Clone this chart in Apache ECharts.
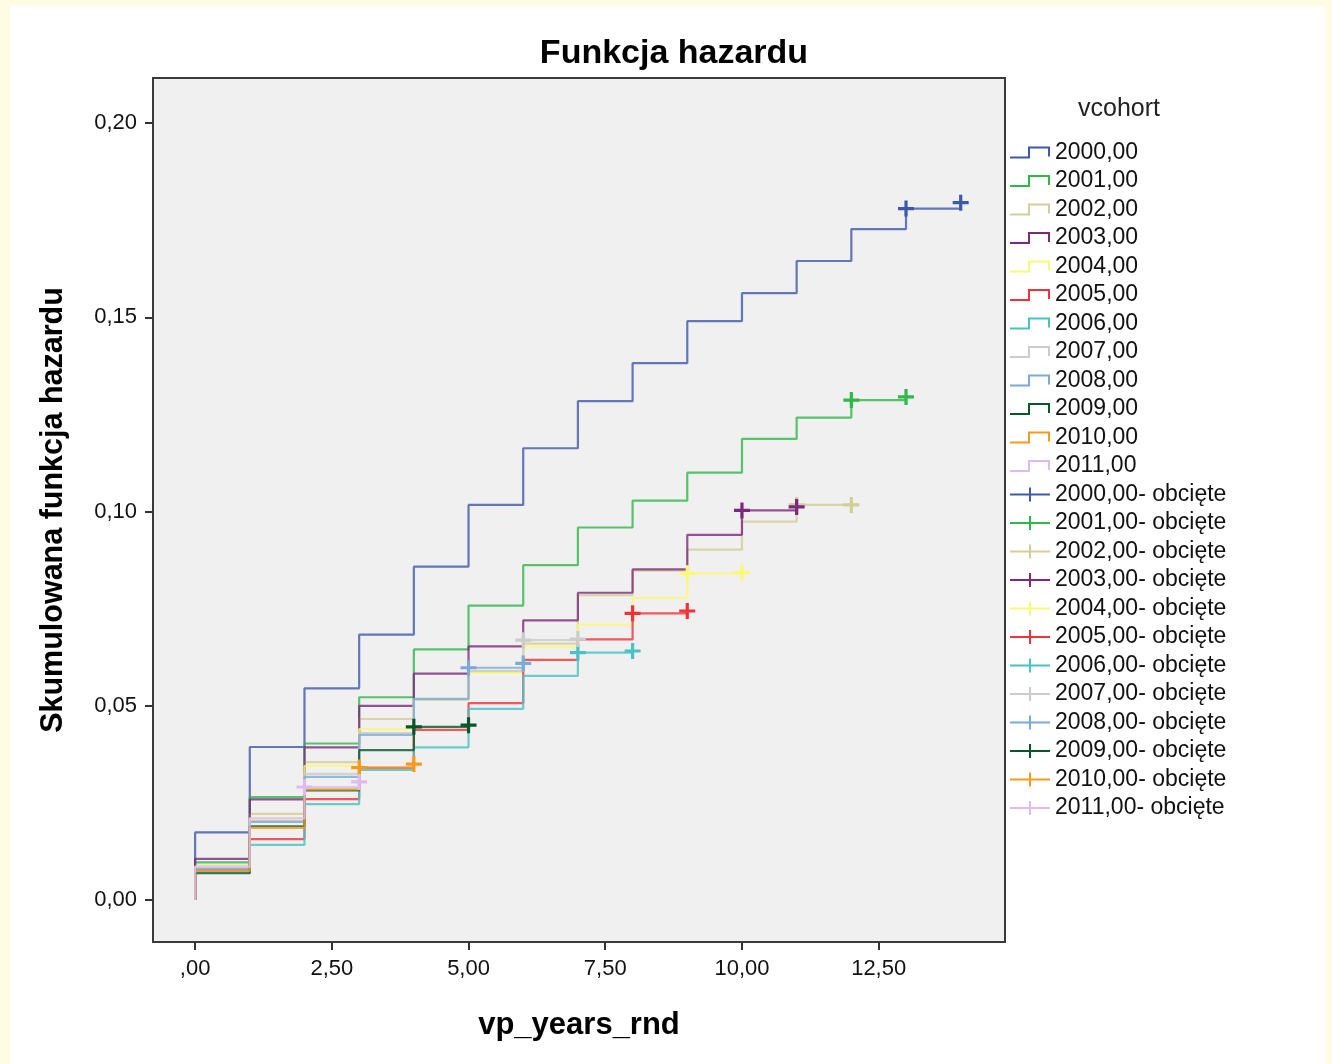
<!DOCTYPE html>
<html>
<head>
<meta charset="utf-8">
<script src="https://cdn.jsdelivr.net/npm/echarts@6/dist/echarts.min.js"></script>
<style>
  html, body { margin: 0; padding: 0; background: #fefde4; }
  #chart { position: absolute; left: 10px; top: 6px; width: 1315px; height: 1058px; background: #ffffff; }
</style>
</head>
<body>
<div id="chart"></div>
<script>
// ---- data ----
const xTicks = [0, 2.5, 5, 7.5, 10, 12.5];
const yTicks = [0, 0.05, 0.10, 0.15, 0.20];
const cohorts = ['2000,00','2001,00','2002,00','2003,00','2004,00','2005,00','2006,00','2007,00','2008,00','2009,00','2010,00','2011,00'];
const colors = ['#3E58AC','#2EB848','#D3CE97','#7C287D','#FBF873','#EF3338','#48C2C5','#CCCCCC','#7AAAD5','#0A562C','#F8981D','#DDBAF1'];

// cumulative hazard level after each event time t = 0,1,2,...
const h2000 = [0.0174, 0.0394, 0.0545, 0.0683, 0.0858, 0.1017, 0.1163, 0.1284, 0.1382, 0.1490, 0.1562, 0.1645, 0.1727, 0.1780];
const h2001 = [0.0097, 0.0265, 0.0403, 0.0522, 0.0645, 0.0758, 0.0862, 0.0959, 0.1028, 0.1100, 0.1187, 0.1242, 0.1287];
const h2002 = [0.0088, 0.0222, 0.0355, 0.0466, 0.0516, 0.0588, 0.0660, 0.0785, 0.0848, 0.0902, 0.0974, 0.1017];
const h2003 = [0.0106, 0.0259, 0.0393, 0.0500, 0.0583, 0.0653, 0.0720, 0.0791, 0.0851, 0.0940, 0.1003];
const h2004 = [0.0086, 0.0210, 0.0345, 0.0440, 0.0515, 0.0585, 0.0652, 0.0709, 0.0778, 0.0841];
const h2005 = [0.0078, 0.0157, 0.0260, 0.0340, 0.0438, 0.0507, 0.0618, 0.0671, 0.0738];
const h2006 = [0.0072, 0.0142, 0.0247, 0.0335, 0.0393, 0.0492, 0.0577, 0.0637];
const h2007 = [0.0082, 0.0203, 0.0325, 0.0430, 0.0516, 0.0590, 0.0669];
const h2008 = [0.0080, 0.0201, 0.0317, 0.0425, 0.0518, 0.0598];
const h2009 = [0.0069, 0.0190, 0.0282, 0.0386, 0.0446];
const h2010 = [0.0075, 0.0186, 0.0285, 0.0341];
const h2011 = [0.0085, 0.0210, 0.0291];

// censored observations [time, value]
const c2000 = [[13, 0.1780], [14, 0.1795]];
const c2001 = [[12, 0.1287], [13, 0.1295]];
const c2002 = [[11, 0.1017], [12, 0.1017]];
const c2003 = [[10, 0.1003], [11, 0.1012]];
const c2004 = [[9, 0.0841], [10, 0.0843]];
const c2005 = [[8, 0.0738], [9, 0.0744]];
const c2006 = [[7, 0.0637], [8, 0.0641]];
const c2007 = [[6, 0.0669], [7, 0.0672]];
const c2008 = [[5, 0.0598], [6, 0.0609]];
const c2009 = [[4, 0.0446], [5, 0.0450]];
const c2010 = [[3, 0.0341], [4, 0.0350]];
const c2011 = [[2, 0.0291], [3, 0.0304]];

const levels = [h2000,h2001,h2002,h2003,h2004,h2005,h2006,h2007,h2008,h2009,h2010,h2011];
const censored = [c2000,c2001,c2002,c2003,c2004,c2005,c2006,c2007,c2008,c2009,c2010,c2011];

// ---- chart ----
const font = "'Liberation Sans', Arial, sans-serif";
const stepIcon = 'path://M0,11 L18,11 L18,1 L40,1 L40,11 L38,11 L38,3 L20,3 L20,13 L0,13 Z';
const plusIcon = 'path://M0,6 L19,6 L19,0 L21,0 L21,6 L40,6 L40,8 L21,8 L21,14 L19,14 L19,8 L0,8 Z';
const plusSymbol = 'path://M6,0 L9,0 L9,6 L15,6 L15,9 L9,9 L9,15 L6,15 L6,9 L0,9 L0,6 L6,6 Z';

const series = [];
const legendData = [];
cohorts.forEach((c, i) => {
  const lv = levels[i];
  const data = [[0, 0]];
  lv.forEach((v, t) => data.push([t, v]));
  const last = censored[i][censored[i].length - 1];
  data.push([last[0], last[1]]);
  series.push({
    name: c, type: 'line', step: 'end', data: data,
    showSymbol: false, symbol: 'none', z: 2 + i,
    color: colors[i],
    lineStyle: { width: 2.2, color: colors[i], opacity: 0.8 },
    itemStyle: { color: colors[i] },
    emphasis: { disabled: true }, animation: false
  });
  legendData.push({ name: c, icon: stepIcon });
});
cohorts.forEach((c, i) => {
  const name = c + '- obcięte';
  series.push({
    name: name, type: 'scatter', data: censored[i],
    symbol: plusSymbol, symbolSize: 16, z: 20 + i,
    itemStyle: { color: colors[i], opacity: 1 },
    emphasis: { disabled: true }, animation: false
  });
  legendData.push({ name: name, icon: plusIcon });
});

const chart = echarts.init(document.getElementById('chart'), null, { renderer: 'canvas' });
chart.setOption({
  animation: false,
  title: [
    { text: 'Funkcja hazardu', left: 659, top: 26, textAlign: 'center',
      textStyle: { fontFamily: font, fontSize: 34, fontWeight: 'bold', color: '#000' } },
    { text: 'vcohort', left: 1104, top: 86, textAlign: 'center',
      textStyle: { fontFamily: font, fontSize: 25, fontWeight: 'normal', color: '#222' } }
  ],
  grid: { left: 143, top: 72, right: 320, bottom: 122, show: true,
          backgroundColor: '#f0f0f0', borderColor: '#3a3a3a', borderWidth: 2, containLabel: false },
  legend: {
    orient: 'vertical', left: 1000, top: 135, padding: 0,
    itemWidth: 40, itemHeight: 14, itemGap: 5.5,
    data: legendData, selectedMode: false,
    textStyle: { fontFamily: font, fontSize: 23, color: '#111', lineHeight: 22 }
  },
  xAxis: {
    type: 'value', min: -0.77, max: 14.81,
    name: 'vp_years_rnd', nameLocation: 'middle', nameGap: 68,
    nameTextStyle: { fontFamily: font, fontSize: 31, fontWeight: 'bold', color: '#000' },
    axisLine: { show: false, onZero: false },
    splitLine: { show: false },
    axisTick: { show: true, length: 8, customValues: xTicks, lineStyle: { color: '#333', width: 2 } },
    axisLabel: { customValues: xTicks, margin: 16, fontFamily: font, fontSize: 22, color: '#111',
                 formatter: v => v === 0 ? ',00' : v.toFixed(2).replace('.', ',') }
  },
  yAxis: {
    type: 'value', min: -0.0108, max: 0.2116,
    name: 'Skumulowana funkcja hazardu', nameLocation: 'middle', nameGap: 84, nameRotate: 90,
    nameTextStyle: { fontFamily: font, fontSize: 30.5, fontWeight: 'bold', color: '#000' },
    axisLine: { show: false, onZero: false },
    splitLine: { show: false },
    axisTick: { show: true, length: 8, customValues: yTicks, lineStyle: { color: '#333', width: 2 } },
    axisLabel: { customValues: yTicks, margin: 16, fontFamily: font, fontSize: 22, color: '#111',
                 formatter: v => v.toFixed(2).replace('.', ',') }
  },
  series: series
});
</script>
</body>
</html>
